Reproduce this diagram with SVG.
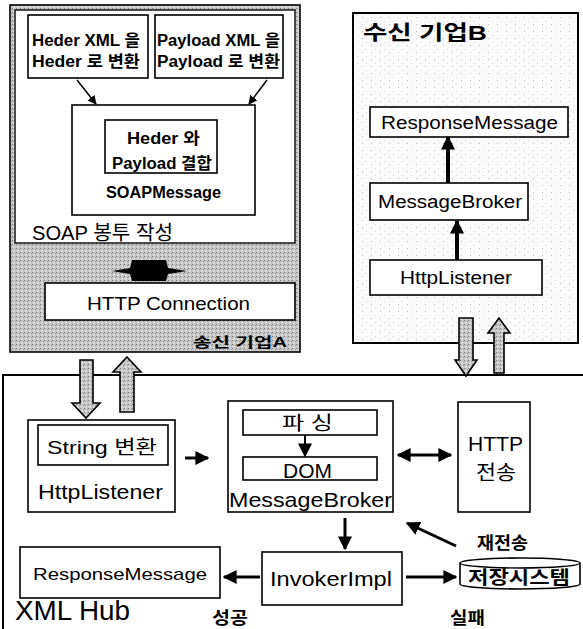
<svg xmlns="http://www.w3.org/2000/svg" width="583" height="629" viewBox="0 0 583 629">
<defs>
<style>
.t{font-family:"Liberation Sans","Noto Sans CJK KR",sans-serif;fill:#000}
.b{font-weight:bold}
.box{fill:#fff;stroke:#000;stroke-width:1.6}
.ln{stroke:#000;fill:none}
.hollow{fill:url(#grey);stroke:#000;stroke-width:1.6}
</style>
<pattern id="grey" width="4" height="4" patternUnits="userSpaceOnUse">
<rect width="4" height="4" fill="#c6c6c6"/><rect x="0" y="0" width="1" height="1" fill="#7a7a7a"/><rect x="2" y="2" width="1" height="1" fill="#eeeeee"/><rect x="3" y="1" width="1" height="1" fill="#999"/><rect x="1" y="3" width="1" height="1" fill="#e2e2e2"/>
</pattern>
<pattern id="light" width="9" height="7" patternUnits="userSpaceOnUse">
<rect width="9" height="7" fill="#fbfbfb"/><rect x="2" y="3" width="1" height="1" fill="#bbb"/><rect x="6" y="0" width="1" height="1" fill="#d8d8d8"/>
</pattern>
<marker id="ahS" viewBox="0 0 10 10" refX="9" refY="5" markerWidth="9" markerHeight="9" orient="auto-start-reverse" markerUnits="userSpaceOnUse"><path d="M0,0 L10,5 L0,10 z" fill="#000"/></marker>
<marker id="ahL" viewBox="0 0 10 10" refX="9" refY="5" markerWidth="14" markerHeight="14" orient="auto-start-reverse" markerUnits="userSpaceOnUse"><path d="M0,0 L10,5 L0,10 z" fill="#000"/></marker>
</defs>
<rect width="583" height="629" fill="#fff"/>

<!-- XML Hub container -->
<g id="xmlhub">
<rect x="3" y="375" width="620" height="300" fill="#fff" stroke="#000" stroke-width="2"/>
<text class="t" x="15" y="620" font-size="27" textLength="115" lengthAdjust="spacingAndGlyphs">XML Hub</text>
</g>

<!-- Sender A container -->
<g id="senderA">
<rect x="10" y="5" width="290" height="347" fill="url(#grey)" stroke="#000" stroke-width="1.6"/>
<rect x="15" y="10" width="280" height="233" fill="#fff" stroke="#222" stroke-width="1.6"/>
<text class="t" x="32" y="240" font-size="20" textLength="141" lengthAdjust="spacingAndGlyphs">SOAP 봉투 작성</text>
<text class="t b" x="193" y="347" font-size="14" fill="#111" textLength="94" lengthAdjust="spacingAndGlyphs">송신 기업A</text>
</g>

<!-- Receiver B container -->
<g id="receiverB">
<rect x="353" y="13" width="225" height="330" fill="url(#light)" stroke="#000" stroke-width="2"/>
<text class="t b" x="363" y="40" font-size="20" textLength="124" lengthAdjust="spacingAndGlyphs">수신 기업B</text>
</g>

<g id="heder-conv">
<rect class="box" x="28" y="15" width="120" height="63"/>
<text class="t b" x="32" y="46" font-size="16" textLength="108" lengthAdjust="spacingAndGlyphs">Heder XML 을</text>
<text class="t b" x="32" y="67" font-size="16" textLength="108" lengthAdjust="spacingAndGlyphs">Heder 로 변환</text>
</g>

<g id="payload-conv">
<rect class="box" x="155" y="15" width="128" height="63"/>
<text class="t b" x="157" y="46" font-size="16" textLength="123" lengthAdjust="spacingAndGlyphs">Payload XML 을</text>
<text class="t b" x="157" y="67" font-size="16" textLength="123" lengthAdjust="spacingAndGlyphs">Payload 로 변환</text>
</g>

<g id="soapmessage">
<rect class="box" x="72" y="105" width="183" height="110"/>
<rect class="box" x="105" y="120" width="112" height="53"/>
<text class="t b" x="127" y="144" font-size="16" textLength="73" lengthAdjust="spacingAndGlyphs">Heder 와</text>
<text class="t b" x="112" y="169" font-size="16" textLength="100" lengthAdjust="spacingAndGlyphs">Payload 결합</text>
<text class="t b" x="106" y="198" font-size="16" textLength="115" lengthAdjust="spacingAndGlyphs">SOAPMessage</text>
</g>

<g id="http-connection">
<rect class="box" x="45" y="283" width="250" height="37"/>
<text class="t" x="87" y="310" font-size="19" textLength="163" lengthAdjust="spacingAndGlyphs">HTTP Connection</text>
</g>

<g id="b-response">
<rect class="box" x="370" y="107" width="198" height="30"/>
<text class="t" x="381" y="129" font-size="18" textLength="177" lengthAdjust="spacingAndGlyphs">ResponseMessage</text>
</g>

<g id="b-broker">
<rect class="box" x="370" y="183" width="158" height="37"/>
<text class="t" x="378" y="208" font-size="18" textLength="144" lengthAdjust="spacingAndGlyphs">MessageBroker</text>
</g>

<g id="b-listener">
<rect class="box" x="370" y="260" width="172" height="35"/>
<text class="t" x="400" y="284" font-size="18" textLength="112" lengthAdjust="spacingAndGlyphs">HttpListener</text>
</g>

<g id="hub-listener">
<rect class="box" x="28" y="420" width="147" height="92"/>
<rect class="box" x="38" y="425" width="130" height="40"/>
<text class="t" x="47" y="454" font-size="19" textLength="110" lengthAdjust="spacingAndGlyphs">String 변환</text>
<text class="t" x="38" y="499" font-size="20" textLength="125" lengthAdjust="spacingAndGlyphs">HttpListener</text>
</g>

<g id="hub-broker">
<rect class="box" x="228" y="401" width="165" height="111"/>
<rect class="box" x="243" y="410" width="134" height="25"/>
<rect class="box" x="243" y="457" width="134" height="23"/>
<text class="t" x="282" y="430" font-size="19" textLength="51" lengthAdjust="spacingAndGlyphs">파 싱</text>
<text class="t" x="283" y="478" font-size="20" textLength="49" lengthAdjust="spacingAndGlyphs">DOM</text>
<text class="t" x="229" y="507" font-size="21" textLength="163" lengthAdjust="spacingAndGlyphs">MessageBroker</text>
</g>

<g id="http-send">
<rect class="box" x="458" y="402" width="72" height="110"/>
<text class="t" x="468" y="451" font-size="20" textLength="55" lengthAdjust="spacingAndGlyphs">HTTP</text>
<text class="t" x="476" y="480" font-size="20" textLength="40" lengthAdjust="spacingAndGlyphs">전송</text>
</g>

<g id="invoker">
<rect class="box" x="262" y="552" width="140" height="53"/>
<text class="t" x="270" y="586" font-size="20" textLength="122" lengthAdjust="spacingAndGlyphs">InvokerImpl</text>
</g>

<g id="hub-response">
<rect class="box" x="20" y="547" width="200" height="51"/>
<text class="t" x="33" y="580" font-size="17" textLength="174" lengthAdjust="spacingAndGlyphs">ResponseMessage</text>
</g>

<g id="storage">
<path d="M460,563 A60,5 0 0,1 580,563 V584 A60,5 0 0,1 460,584 Z" fill="#fff" stroke="#000" stroke-width="1.6"/>
<path d="M460,563 A60,5 0 0,0 580,563" fill="none" stroke="#000" stroke-width="1.4"/>
<text class="t b" x="468" y="584" font-size="18" textLength="102" lengthAdjust="spacingAndGlyphs">저장시스템</text>
</g>

<g id="labels">
<text class="t b" x="477" y="549" font-size="17" textLength="51" lengthAdjust="spacingAndGlyphs">재전송</text>
<text class="t b" x="212" y="624" font-size="17" textLength="36" lengthAdjust="spacingAndGlyphs">성공</text>
<text class="t b" x="450" y="624" font-size="17" textLength="35" lengthAdjust="spacingAndGlyphs">실패</text>
</g>

<g id="connectors">
<line class="ln" x1="77" y1="80" x2="96" y2="104" stroke-width="1.5" marker-end="url(#ahS)"/>
<line class="ln" x1="267" y1="80" x2="249" y2="104" stroke-width="1.5" marker-end="url(#ahS)"/>
<path d="M112,271 L130,268 L132,260 L166,260 L168,268 L187,271 L168,274 L166,281 L132,281 L130,274 Z" fill="#000"/>
<line class="ln" x1="457" y1="260" x2="457" y2="221" stroke-width="4" marker-end="url(#ahL)"/>
<line class="ln" x1="448" y1="183" x2="448" y2="137" stroke-width="4" marker-end="url(#ahL)"/>
<path class="hollow" d="M80,360 H93 V403 H100 L86,418 L72,403 H80 Z"/>
<path class="hollow" d="M127,357 L141,372 H134 V412 H120 V372 H113 Z"/>
<path class="hollow" d="M459,318 H473 V360 H477 L466,376 L455,360 H459 Z"/>
<path class="hollow" d="M499,318 L510,333 H504 V373 H494 V333 H488 Z"/>
<line class="ln" x1="185" y1="458" x2="208" y2="458" stroke-width="3" marker-end="url(#ahL)"/>
<line class="ln" x1="305" y1="435" x2="305" y2="456" stroke-width="2" marker-end="url(#ahL)"/>
<line class="ln" x1="398" y1="455" x2="451" y2="455" stroke-width="3" marker-start="url(#ahL)" marker-end="url(#ahL)"/>
<line class="ln" x1="345" y1="518" x2="345" y2="549" stroke-width="3" marker-end="url(#ahL)"/>
<line class="ln" x1="260" y1="577" x2="224" y2="577" stroke-width="3" marker-end="url(#ahL)"/>
<line class="ln" x1="406" y1="577" x2="456" y2="577" stroke-width="3" marker-end="url(#ahL)"/>
<line class="ln" x1="456" y1="546" x2="407" y2="523" stroke-width="3" marker-end="url(#ahL)"/>
</g>
</svg>
